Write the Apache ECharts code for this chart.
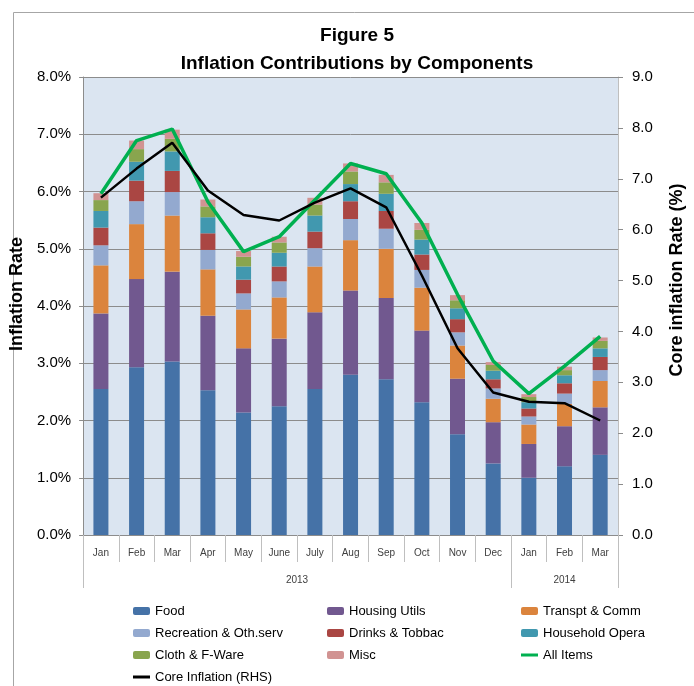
<!DOCTYPE html>
<html>
<head>
<meta charset="utf-8">
<script src="https://cdn.jsdelivr.net/npm/echarts@6/dist/echarts.min.js"></script>
<style>
  html, body { margin: 0; padding: 0; background: #fff; }
  #main { width: 694px; height: 686px; }
</style>
</head>
<body>
<div id="main"></div>
<script>
// months along the axis, grouped by year underneath
var months = ['Jan', 'Feb', 'Mar', 'Apr', 'May', 'June', 'July', 'Aug', 'Sep', 'Oct', 'Nov', 'Dec', 'Jan', 'Feb', 'Mar'];
var years = ['2013', '2014'];
var yearMonths = [12, 3];

// contributions (percentage points)
var food       = [2.55, 2.93, 3.03, 2.53, 2.14, 2.25, 2.55, 2.80, 2.72, 2.32, 1.76, 1.25, 1.00, 1.20, 1.40];
var housing    = [1.32, 1.54, 1.57, 1.30, 1.12, 1.18, 1.34, 1.47, 1.42, 1.25, 0.97, 0.72, 0.59, 0.70, 0.83];
var transport  = [0.84, 0.96, 0.98, 0.81, 0.68, 0.72, 0.80, 0.88, 0.86, 0.75, 0.58, 0.41, 0.34, 0.39, 0.46];
var recreation = [0.35, 0.40, 0.41, 0.34, 0.28, 0.28, 0.32, 0.37, 0.35, 0.31, 0.23, 0.18, 0.14, 0.18, 0.19];
var drinks     = [0.31, 0.36, 0.37, 0.29, 0.24, 0.26, 0.29, 0.31, 0.31, 0.27, 0.23, 0.16, 0.14, 0.18, 0.23];
var household  = [0.29, 0.33, 0.34, 0.28, 0.23, 0.24, 0.28, 0.30, 0.30, 0.26, 0.19, 0.15, 0.11, 0.14, 0.15];
var cloth      = [0.19, 0.22, 0.22, 0.19, 0.17, 0.18, 0.19, 0.22, 0.20, 0.17, 0.14, 0.10, 0.09, 0.09, 0.13];
var misc       = [0.12, 0.15, 0.16, 0.12, 0.10, 0.10, 0.12, 0.14, 0.13, 0.12, 0.09, 0.05, 0.05, 0.06, 0.06];

var allItems   = [5.96, 6.89, 7.09, 5.82, 4.95, 5.21, 5.85, 6.49, 6.31, 5.45, 4.20, 3.04, 2.47, 2.95, 3.47];
var coreInfl   = [6.63, 7.20, 7.71, 6.77, 6.29, 6.18, 6.53, 6.81, 6.44, 5.10, 3.67, 2.80, 2.62, 2.59, 2.25];

// year row: half-month steps so the year name sits in the middle of its span
var yearAxis = [''];
var yearTicks = [0];
var pos = 0;
for (var y = 0; y < years.length; y++) {
    for (var k = 1; k <= yearMonths[y] * 2; k++) {
        yearAxis.push(k === yearMonths[y] ? years[y] : '');
    }
    pos += yearMonths[y] * 2;
    yearTicks.push(pos);
}

var font = "'Liberation Sans', Arial, sans-serif";
var lineIcon = 'path://M0,0 L17,0 L17,3 L0,3 Z';

function barSeries(name, data, color) {
    return {
        name: name,
        type: 'bar',
        stack: 'total',
        barWidth: 15,
        yAxisIndex: 0,
        itemStyle: { color: color },
        data: data
    };
}

function legendCol(left, items) {
    return {
        orient: 'vertical',
        left: left,
        top: 604,
        padding: 0,
        itemWidth: 17,
        itemHeight: 8,
        itemGap: 8,
        selectedMode: false,
        textStyle: { fontFamily: font, fontSize: 13, color: '#000', lineHeight: 14 },
        data: items
    };
}

var myChart = echarts.init(document.getElementById('main'));
var option = {
    animation: false,
    backgroundColor: '#ffffff',
    title: {
        text: 'Figure 5\nInflation Contributions by Components',
        left: 357,
        top: 22,
        padding: 0,
        textAlign: 'center',
        textStyle: {
            fontFamily: font,
            fontWeight: 'bold',
            fontSize: 19,
            lineHeight: 28,
            color: '#000'
        }
    },
    graphic: [{
        type: 'rect',
        left: 11,
        top: 10,
        shape: { width: 720, height: 720 },
        style: { fill: 'none', stroke: '#a6a6a6', lineWidth: 1 },
        silent: true
    }],
    legend: [
        legendCol(133, ['Food', 'Recreation & Oth.serv', 'Cloth & F-Ware',
            { name: 'Core Inflation (RHS)', icon: lineIcon }]),
        legendCol(327, ['Housing Utils', 'Drinks & Tobbac', 'Misc']),
        legendCol(521, ['Transpt & Comm', 'Household Opera',
            { name: 'All Items', icon: lineIcon }])
    ],
    grid: {
        left: 75,
        right: 68,
        top: 77,
        bottom: 151,
        show: true,
        backgroundColor: '#dbe5f1',
        borderWidth: 0
    },
    xAxis: [{
        type: 'category',
        data: months,
        position: 'bottom',
        axisLine: { lineStyle: { color: '#8c8c8c', width: 1 } },
        axisTick: { show: true, interval: 0, length: 27, lineStyle: { color: '#bfbfbf' } },
        axisLabel: { interval: 0, margin: 13, fontFamily: font, fontSize: 10, color: '#404040' }
    }, {
        type: 'category',
        data: yearAxis,
        boundaryGap: false,
        position: 'bottom',
        offset: 0,
        axisLine: { show: false },
        axisTick: {
            show: true,
            length: 53,
            interval: function (index) { return yearTicks.indexOf(index) >= 0; },
            lineStyle: { color: '#bfbfbf' }
        },
        axisLabel: { interval: 0, margin: 40, fontFamily: font, fontSize: 10, color: '#404040' }
    }],
    yAxis: [{
        type: 'value',
        min: 0,
        max: 8,
        interval: 1,
        name: 'Inflation Rate',
        nameLocation: 'middle',
        nameGap: 52,
        nameTextStyle: { fontFamily: font, fontWeight: 'bold', fontSize: 18, color: '#000', padding: [0, 0, 0, 24] },
        axisLine: { show: true, lineStyle: { color: '#8c8c8c' } },
        axisTick: { show: true, length: 4, lineStyle: { color: '#8c8c8c' } },
        axisLabel: {
            margin: 12,
            fontFamily: font,
            fontSize: 15,
            color: '#000',
            formatter: function (v) { return v.toFixed(1) + '%'; }
        },
        splitLine: { show: true, lineStyle: { color: '#8c8c8c', width: 1 } }
    }, {
        type: 'value',
        min: 0,
        max: 9,
        interval: 1,
        position: 'right',
        name: 'Core inflation Rate (%)',
        nameLocation: 'middle',
        nameGap: 50,
        nameRotate: 90,
        nameTextStyle: { fontFamily: font, fontWeight: 'bold', fontSize: 18, color: '#000', padding: [0, 0, 0, 52] },
        axisLine: { show: true, lineStyle: { color: '#bfbfbf' } },
        axisTick: { show: true, length: 5, lineStyle: { color: '#8c8c8c' } },
        axisLabel: {
            margin: 14,
            fontFamily: font,
            fontSize: 15,
            color: '#000',
            formatter: function (v) { return v.toFixed(1); }
        },
        splitLine: { show: false }
    }],
    series: [
        barSeries('Food', food, '#4572a7'),
        barSeries('Housing Utils', housing, '#71588f'),
        barSeries('Transpt & Comm', transport, '#db843d'),
        barSeries('Recreation & Oth.serv', recreation, '#93a9cf'),
        barSeries('Drinks & Tobbac', drinks, '#aa4643'),
        barSeries('Household Opera', household, '#4198af'),
        barSeries('Cloth & F-Ware', cloth, '#89a54e'),
        barSeries('Misc', misc, '#d19392'),
        {
            name: 'All Items',
            type: 'line',
            yAxisIndex: 0,
            symbol: 'none',
            lineStyle: { color: '#00b050', width: 3.5 },
            itemStyle: { color: '#00b050' },
            data: allItems
        },
        {
            name: 'Core Inflation (RHS)',
            type: 'line',
            yAxisIndex: 1,
            symbol: 'none',
            lineStyle: { color: '#000000', width: 2.5 },
            itemStyle: { color: '#000000' },
            data: coreInfl
        }
    ]
};
myChart.setOption(option);
</script>
</body>
</html>
